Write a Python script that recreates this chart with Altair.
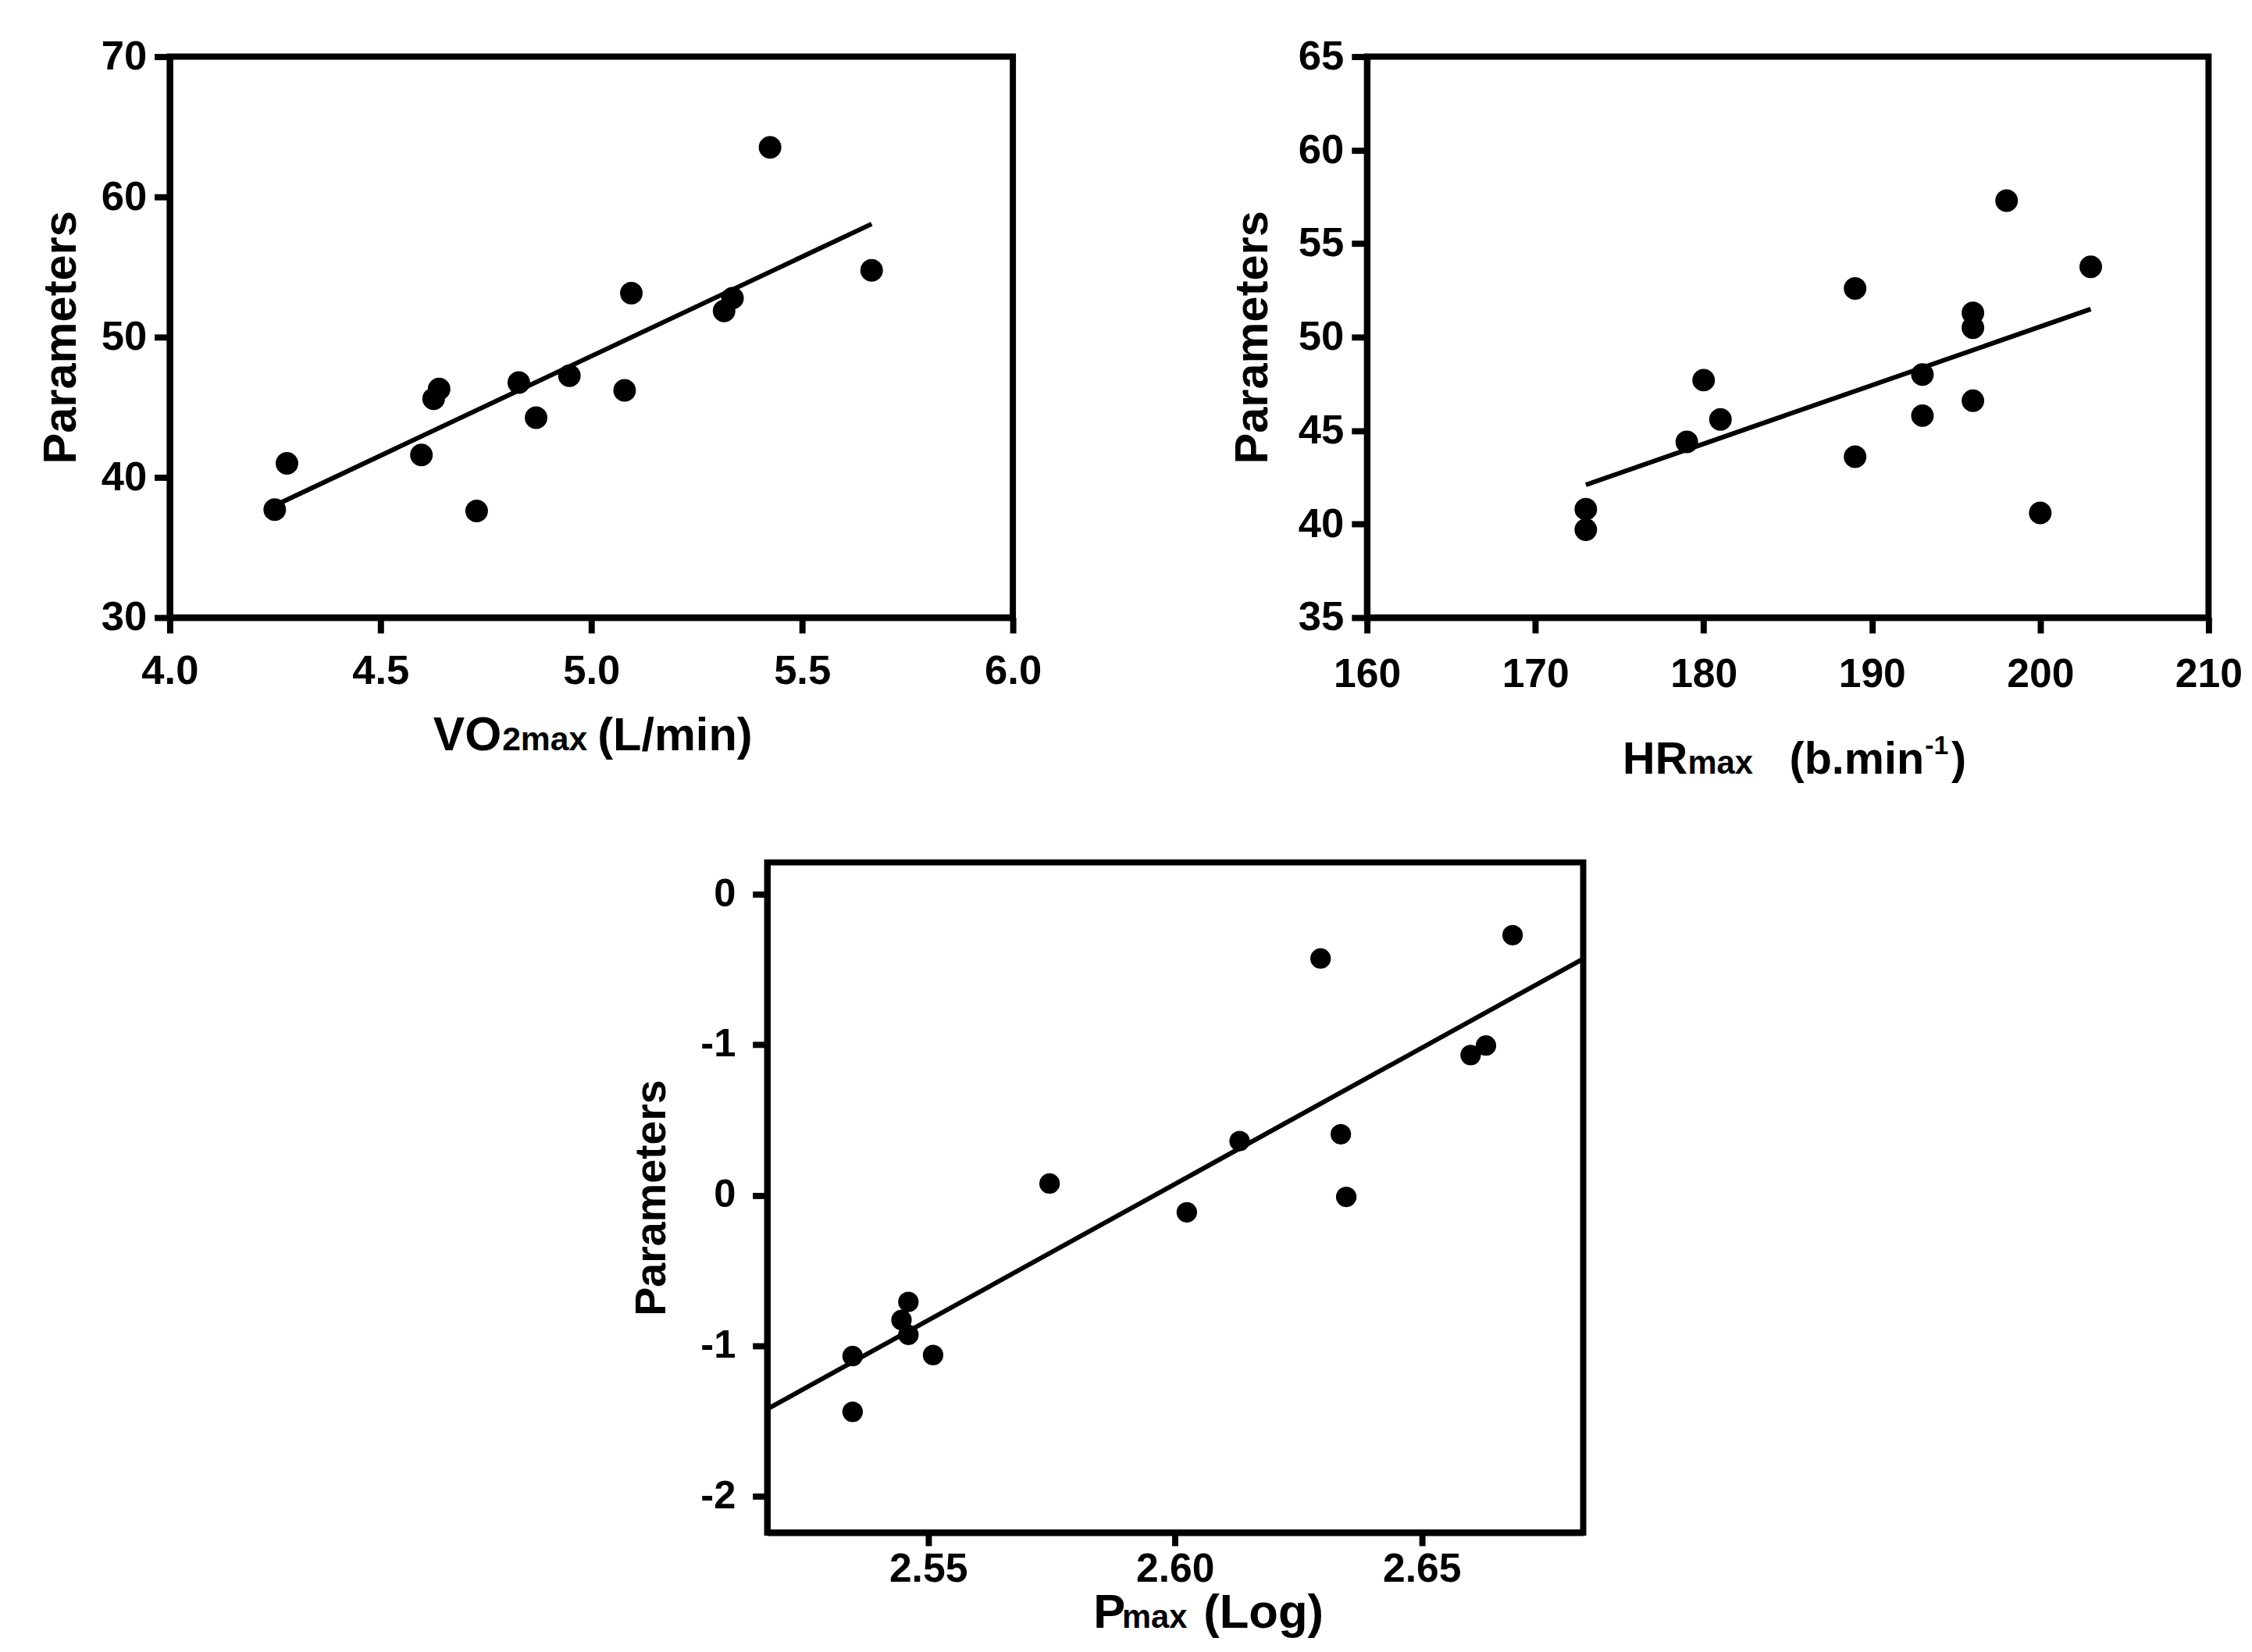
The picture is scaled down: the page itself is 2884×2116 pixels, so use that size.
import altair as alt
import pandas as pd

# ---------------- data ----------------
# Panel 1: VO2max vs Parameters
VO2_X = [4.249, 4.278, 4.597, 4.626, 4.639, 4.728, 4.828, 4.869, 4.948, 5.079, 5.095, 5.315, 5.335, 5.424, 5.665]
VO2_Y = [37.7, 41.0, 41.6, 45.6, 46.3, 37.6, 46.76, 44.25, 47.25, 46.2, 53.13, 51.87, 52.78, 63.53, 54.76]
VO2_FIT_X = [4.253, 5.665]
VO2_FIT_Y = [38.05, 58.07]
VO2_XTICKS = [4.0, 4.5, 5.0, 5.5, 6.0]
VO2_YTICKS = [30, 40, 50, 60, 70]

# Panel 2: HRmax vs Parameters
HR_X = [173.0, 173.0, 179.0, 180.0, 181.0, 189.0, 189.0, 193.0, 193.0, 196.0, 196.0, 196.0, 198.0, 200.0, 203.0]
HR_Y = [40.8, 39.7, 44.4, 47.7, 45.6, 52.6, 43.6, 48.0, 45.8, 51.3, 50.5, 46.6, 57.3, 40.6, 53.76]
HR_FIT_X = [173.0, 203.0]
HR_FIT_Y = [42.1, 51.5]
HR_XTICKS = [160, 170, 180, 190, 200, 210]
HR_YTICKS = [35, 40, 45, 50, 55, 60, 65]

# Panel 3: Pmax (Log) vs Parameters
P_X = [2.5347, 2.5347, 2.5446, 2.5460, 2.5460, 2.5510, 2.5746, 2.6024, 2.6131, 2.6295, 2.6336, 2.6347, 2.6599, 2.6630, 2.6684]
P_Y = [-1.068, -1.438, -0.828, -0.708, -0.927, -1.061, 0.078, -0.113, 0.360, 1.572, 0.405, -0.011, 0.931, 0.994, 1.727]
P_FIT_X = [2.5174, 2.6827]
P_FIT_Y = [-1.42, 1.57]
P_XTICKS = [2.55, 2.60, 2.65]
P_YTICKS = [2, 1, 0, -1, -2]
P_YLABELS = ["0", "-1", "0", "-1", "-2"]

FONT = "Liberation Sans"
NARROW = "Liberation Sans Narrow, Liberation Sans"
ONE = pd.DataFrame({"k": [0]})


def piece(txt, x, y, size, font=FONT):
    return alt.Chart(ONE).mark_text(
        text=txt, align="left", baseline="alphabetic", font=font,
        fontSize=size, fontWeight="bold", color="black"
    ).encode(x=alt.value(x), y=alt.value(y))


def axis(values, fmt=None, title=None, lab_size=53, lab_font=FONT, lab_pad=18,
         tick=20, width=8, title_pad=13, title_size=60, label_expr=None):
    kw = dict(values=values, grid=False, domainColor="black", domainWidth=width,
              tickColor="black", tickWidth=width, tickSize=tick,
              labelFont=lab_font, labelFontSize=lab_size, labelFontWeight="bold",
              labelColor="black", labelPadding=lab_pad, labelFlush=False,
              labelOverlap=False)
    if fmt is not None:
        kw["format"] = fmt
    if label_expr is not None:
        kw["labelExpr"] = label_expr
    if title is None:
        kw["title"] = None
    else:
        kw.update(title=title, titleFont=FONT, titleFontSize=title_size,
                  titleFontWeight="bold", titleColor="black", titlePadding=title_pad)
    return alt.Axis(**kw)


def panel(xs, ys, fx, fy, xdom, ydom, xaxis, yaxis, size, lw, w, h, texts, sw=8):
    pts = pd.DataFrame({"x": xs, "y": ys})
    fit = pd.DataFrame({"x": fx, "y": fy})
    xsc = alt.Scale(domain=xdom, nice=False, zero=False)
    ysc = alt.Scale(domain=ydom, nice=False, zero=False)
    dots = alt.Chart(pts).mark_circle(size=size, color="black", opacity=1).encode(
        x=alt.X("x:Q", scale=xsc, axis=xaxis),
        y=alt.Y("y:Q", scale=ysc, axis=yaxis),
    )
    line = alt.Chart(fit).mark_line(color="black", strokeWidth=lw).encode(
        x="x:Q", y="y:Q"
    )
    return alt.layer(dots, line, *texts).properties(
        width=w, height=h,
        view=alt.ViewBackground(stroke="black", strokeWidth=sw, fill="white"),
    )


# Panel 1
p1 = panel(
    VO2_X, VO2_Y, VO2_FIT_X, VO2_FIT_Y, [4, 6], [30, 70],
    axis(VO2_XTICKS, fmt=".1f", lab_pad=23),
    axis(VO2_YTICKS, fmt="d", title="Parameters", lab_pad=10, title_pad=20),
    850, 6, 1088, 724,
    [piece("VO", 340, 895, 61), piece("2max", 429, 895, 43), piece("(L/min)", 552, 895, 60)],
)

# Panel 2
p2 = panel(
    HR_X, HR_Y, HR_FIT_X, HR_FIT_Y, [160, 210], [35, 65],
    axis(HR_XTICKS, fmt="d", lab_pad=28, lab_font=NARROW, lab_size=52),
    axis(HR_YTICKS, fmt="d", title="Parameters", lab_pad=10, title_pad=27),
    850, 6, 1086, 724,
    [piece("HR", 330, 925, 58), piece("max", 414, 925, 42),
     piece("(b.min", 545, 925, 58), piece("-1", 720, 900, 34), piece(")", 754, 925, 58)],
)

# Panel 3
expr = ""
for v, lab in zip(P_YTICKS, P_YLABELS):
    expr += "datum.value == %s ? '%s' : " % (v, lab)
expr += "''"

p3 = panel(
    P_X, P_Y, P_FIT_X, P_FIT_Y, [2.5174, 2.6827], [-2.24, 2.21],
    axis(P_XTICKS, fmt=".2f", lab_size=52, lab_font=NARROW, lab_pad=5, tick=17),
    axis(P_YTICKS, title="Parameters", lab_size=51, lab_pad=22, tick=19,
         title_pad=34, title_size=56, label_expr=expr),
    700, 6, 1053, 865,
    [piece("P", 421, 988, 62, NARROW), piece("max", 458, 988, 42, NARROW),
     piece("(Log)", 563, 988, 62, NARROW)],
)

spacer = alt.Chart(ONE).mark_text(text="").encode(
    x=alt.value(0), y=alt.value(0)
).properties(width=589, height=10)

top = alt.hconcat(p1, p2, spacing=235)
bottom = alt.hconcat(spacer, p3, spacing=0)

chart = alt.vconcat(top, bottom, spacing=93).properties(
    padding={"left": 37, "top": 27, "right": 0, "bottom": 0},
    background="white",
).configure_view(strokeWidth=0)

chart.save("out.html", embed_options={"renderer": "svg", "actions": False})
